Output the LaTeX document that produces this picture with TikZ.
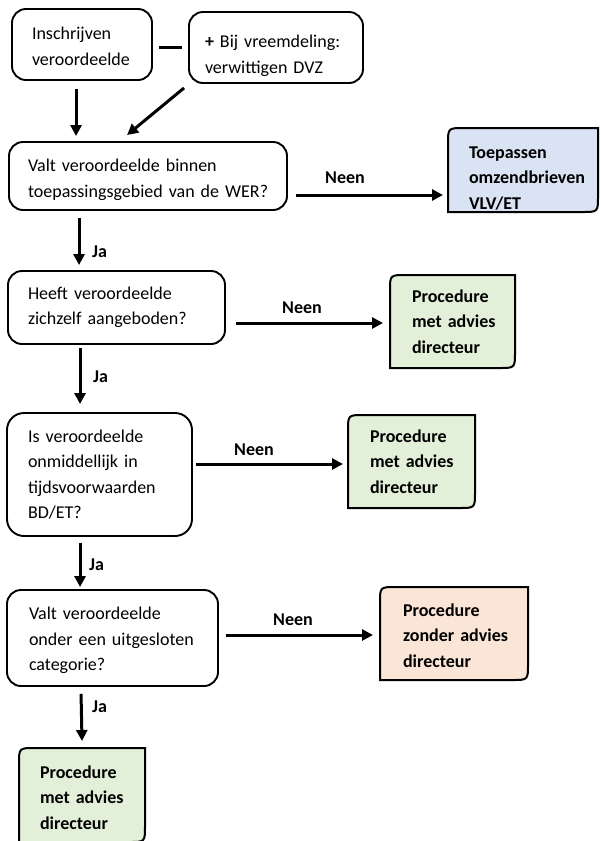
\documentclass[tikz,border=0pt]{standalone}
\usepackage{fontspec}
\setmainfont{Carlito}
\usetikzlibrary{arrows.meta,calc,backgrounds}
\definecolor{bluefill}{HTML}{DAE3F3}
\definecolor{greenfill}{HTML}{E2F0D9}
\definecolor{orangefill}{HTML}{FBE5D6}
\hyphenpenalty=10000
\exhyphenpenalty=10000
\newcommand{\up}[1]{\rule{0pt}{#1pt}}
\newcommand{\oshape}[2]{\path[obline,fill=#2] let \p1=(#1.north west), \p2=(#1.south east) in
  (\x1,\y2) -- (\x1,\y1-16pt) .. controls (\x1,\y1) .. (\x1+16pt,\y1) -- (\x2,\y1)
  -- (\x2,\y2+16pt) .. controls (\x2,\y2) .. (\x2-16pt,\y2) -- cycle;}
\begin{document}
\begin{tikzpicture}[x=1pt,y=-1pt,
  txt/.style={font=\fontsize{18pt}{25.5pt}\selectfont},
  qbox/.style={txt, draw, line width=1.9pt, rounded corners=14pt, align=left, inner ysep=0pt},
  obox/.style={txt, font=\fontsize{18pt}{25.5pt}\selectfont\bfseries, align=left, inner ysep=0pt, outer sep=0pt},
  obline/.style={draw, line width=2pt},
  arr/.style={line width=3pt, -{Triangle[length=11pt,width=11pt]}},
  plain/.style={line width=3pt},
  lab/.style={font=\fontsize{18pt}{22pt}\selectfont\bfseries, inner sep=0pt}]
\useasboundingbox (0,0) rectangle (600,841);

% question boxes
\node[qbox, minimum width=140pt, minimum height=71pt, text width=100pt, inner xsep=20pt] (b1) at (82,44.5)
  {\up{16}Inschrijven\\veroordeelde};
\node[qbox, minimum width=174pt, minimum height=71pt, text width=142pt, inner xsep=16pt] (b2) at (276,47.5)
  {\up{29}\mbox{\textbf{+} Bij vreemdeling:}\\\mbox{verwittigen DVZ}};
\node[qbox, minimum width=278pt, minimum height=68pt, text width=240pt, inner xsep=19pt] (b3) at (148,176)
  {\up{20}\mbox{Valt veroordeelde binnen}\\\mbox{toepassingsgebied van de WER?}};
\node[qbox, minimum width=217pt, minimum height=73pt, text width=177pt, inner xsep=20pt] (b4) at (116.5,307.5)
  {\mbox{Heeft veroordeelde}\\\mbox{zichzelf aangeboden?}};
\node[qbox, rounded corners=17pt, minimum width=185pt, minimum height=123pt, text width=143pt, inner xsep=21pt] (b5) at (99.5,474.5)
  {\mbox{Is veroordeelde}\\\mbox{onmiddellijk in}\\tijdsvoorwaarden\\BD/ET?};
\node[qbox, minimum width=211pt, minimum height=96pt, text width=167pt, inner xsep=22pt] (b6) at (112.5,638)
  {\up{18}\mbox{Valt veroordeelde}\\\mbox{onder een uitgesloten}\\categorie?};

% outcome boxes
\node[obox, minimum width=150pt, minimum height=84pt, text width=108pt, inner xsep=21pt] (blue) at (523,170)
  {\up{28}Toepassen\\omzendbrieven\\VLV/ET};
\node[obox, minimum width=125pt, minimum height=93pt, text width=81pt, inner xsep=22pt] (g1) at (452.5,321.5)
  {Procedure\\\mbox{met advies}\\directeur};
\node[obox, minimum width=127pt, minimum height=93pt, text width=83pt, inner xsep=22pt] (g2) at (411.5,461.5)
  {Procedure\\\mbox{met advies}\\directeur};
\node[obox, minimum width=148pt, minimum height=93pt, text width=102pt, inner xsep=23pt] (or) at (454,633.5)
  {\up{17}Procedure\\\mbox{zonder advies}\\directeur};
\node[obox, minimum width=126pt, minimum height=94pt, text width=84pt, inner xsep=21pt] (g3) at (82,795)
  {\up{18}Procedure\\\mbox{met advies}\\directeur};

\begin{scope}[on background layer]
  \oshape{blue}{bluefill}
  \oshape{g1}{greenfill}
  \oshape{g2}{greenfill}
  \oshape{or}{orangefill}
  \oshape{g3}{greenfill}
\end{scope}

% labels
\node[lab] (n1) at (345,178) {Neen};
\node[lab] (n2) at (302,308) {Neen};
\node[lab] (n3) at (254,450) {Neen};
\node[lab] (n4) at (293,620) {Neen};
\node[lab, anchor=west] (j1) at (92,252) {Ja};
\node[lab, anchor=west] (j2) at (93,377) {Ja};
\node[lab, anchor=west] (j3) at (89,565) {Ja};
\node[lab, anchor=west] (j4) at (92,707) {Ja};

% connectors
\draw[plain] ($(b1.east)+(6,3)$) -- ($(b2.west)+(-6,0)$);
\draw[arr] ($(b1.south west)+(65,8)$) -- ($(b3.north west)+(68,-5)$);
\draw[arr] ($(b2.south west)+(-4,4)$) -- ($(b3.north west)+(119,-6)$);
\draw[arr] ($(b3.east)+(8,19)$) -- ($(blue.west)+(-5,25)$);
\draw[arr] ($(b3.south west)+(71,7)$) -- ($(b4.north west)+(72,-5)$);
\draw[arr] ($(b4.east)+(10,15.5)$) -- ($(g1.west)+(-7,1.5)$);
\draw[arr] ($(b4.south west)+(73,3)$) -- ($(b5.north west)+(74,-8)$);
\draw[arr] ($(b5.east)+(3,-10.5)$) -- ($(g2.west)+(-5,2.5)$);
\draw[arr] ($(b5.south west)+(74,6)$) -- ($(b6.north west)+(74,-2)$);
\draw[arr] ($(b6.east)+(7,-3)$) -- ($(or.west)+(-7,1.5)$);
\draw[arr] ($(b6.south west)+(75,7)$) -- ($(g3.north west)+(63,-7)$);
\end{tikzpicture}
\end{document}
